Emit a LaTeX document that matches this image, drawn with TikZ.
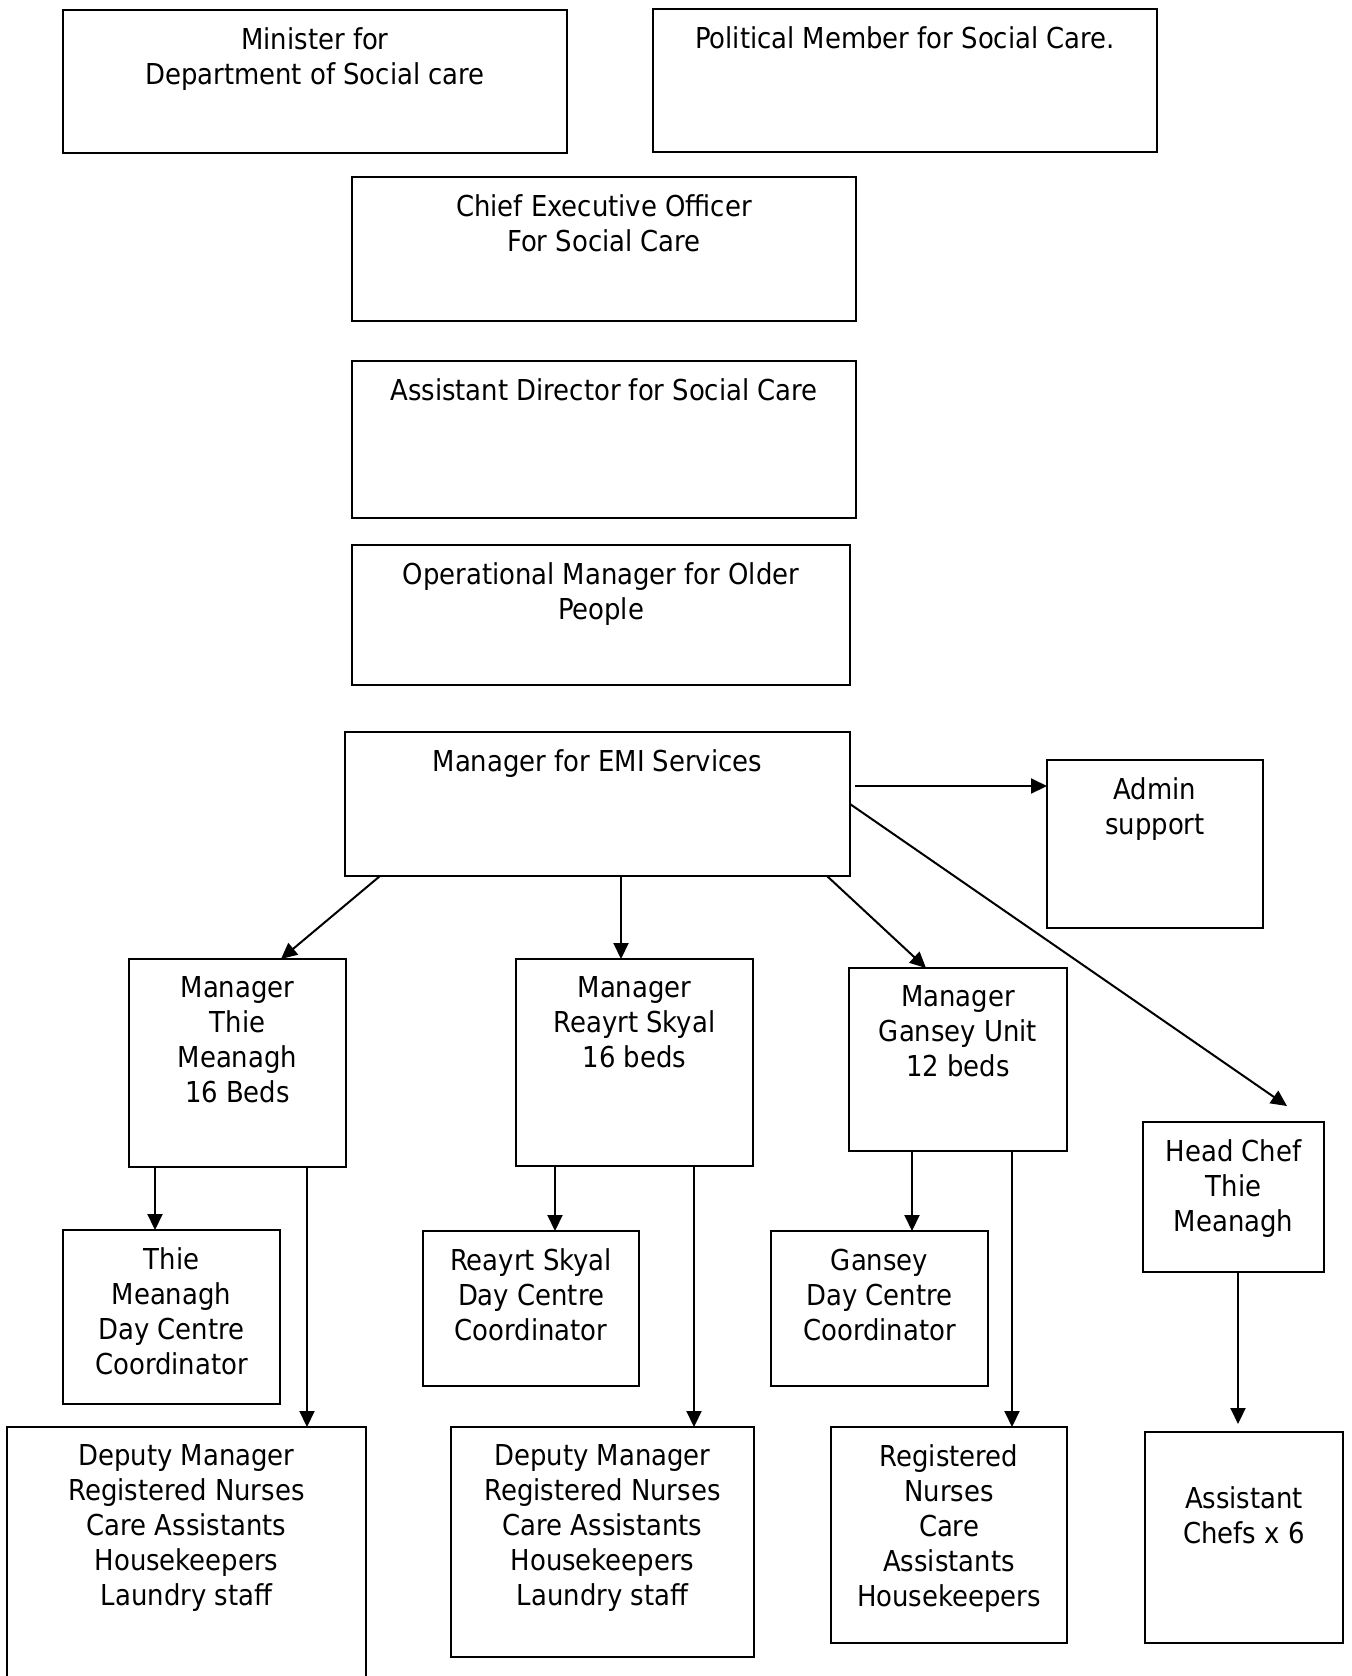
\documentclass[tikz,border=0pt]{standalone}
\usepackage{fontspec}
\setmainfont{DejaVu Sans Condensed}
\usetikzlibrary{arrows.meta,calc}
\newcommand\orgbox[7][8.7pt]{%
  \node[box, minimum width={(#5-#3)*0.5pt}, minimum height={(#6-#4)*0.5pt}] (#2) at ({(#3+#5)/2},{(#4+#6)/2}) {};
  \node[txt, anchor=north] (#2-t) at ([yshift=-#1]#2.north) {#7};}
\begin{document}
\begin{tikzpicture}[x=0.5pt,y=-0.5pt,
  box/.style={draw, line width=1pt, rectangle, inner sep=0pt, outer sep=0pt},
  txt/.style={align=center, inner sep=0pt, font=\fontsize{14.4}{17.5}\selectfont},
  arr/.style={line width=1pt, -{Triangle[length=8pt,width=7.5pt]}}]
\useasboundingbox (0,0) rectangle (1352,1676);

\orgbox{min}{63}{10}{567}{153}{Minister for\\Department of Social care}
\orgbox{pol}{653}{9}{1157}{152}{Political Member for Social Care.}
\orgbox{ceo}{352}{177}{856}{321}{Chief Executive Officer\\For Social Care}
\orgbox{ad}{352}{361}{856}{518}{Assistant Director for Social Care}
\orgbox{om}{352}{545}{850}{685}{Operational Manager for Older\\People}
\orgbox{emi}{345}{732}{850}{876}{Manager for EMI Services}
\orgbox{adm}{1047}{760}{1263}{928}{Admin\\support}
\orgbox{mt}{129}{959}{346}{1167}{Manager\\Thie\\Meanagh\\16 Beds}
\orgbox{mr}{516}{959}{753}{1166}{Manager\\Reayrt Skyal\\16 beds}
\orgbox{mg}{849}{968}{1067}{1151}{Manager\\Gansey Unit\\12 beds}
\orgbox{hc}{1143}{1122}{1324}{1272}{Head Chef\\Thie\\Meanagh}
\orgbox{tdc}{63}{1230}{280}{1404}{Thie\\Meanagh\\Day Centre\\Coordinator}
\orgbox{rdc}{423}{1231}{639}{1386}{Reayrt Skyal\\Day Centre\\Coordinator}
\orgbox{gdc}{771}{1231}{988}{1386}{Gansey\\Day Centre\\Coordinator}
\orgbox{dep1}{7}{1427}{366}{1690}{Deputy Manager\\Registered Nurses\\Care Assistants\\Housekeepers\\Laundry staff}
\orgbox{dep2}{451}{1427}{754}{1657}{Deputy Manager\\Registered Nurses\\Care Assistants\\Housekeepers\\Laundry staff}
\orgbox{reg}{831}{1427}{1067}{1643}{Registered\\Nurses\\Care\\Assistants\\Housekeepers}
\orgbox[27pt]{ach}{1145}{1432}{1343}{1643}{Assistant\\Chefs x 6}

\draw[arr] ($(emi.north east)+(5,54)$) -- ($(adm.north west)+(0,26)$);
\draw[arr] ($(emi.north east)+(0,72)$) -- ($(hc.north west)+(144,-16)$);
\draw[arr] ($(emi.south west)+(35,0)$) -- ($(mt.north west)+(152,0)$);
\draw[arr] ($(emi.south west)+(276,0)$) -- ($(mr.north west)+(105,0)$);
\draw[arr] ($(emi.south east)+(-23,0)$) -- ($(mg.north west)+(77,0)$);
\draw[arr] ($(mt.south west)+(26,0)$) -- ($(tdc.north west)+(92,0)$);
\draw[arr] ($(mt.south west)+(178,0)$) -- ($(dep1.north west)+(300,0)$);
\draw[arr] ($(mr.south west)+(39,0)$) -- ($(rdc.north west)+(132,0)$);
\draw[arr] ($(mr.south west)+(178,0)$) -- ($(dep2.north west)+(243,0)$);
\draw[arr] ($(mg.south west)+(63,0)$) -- ($(gdc.north west)+(141,0)$);
\draw[arr] ($(mg.south west)+(163,0)$) -- ($(reg.north west)+(181,0)$);
\draw[arr] ($(hc.south west)+(95,0)$) -- ($(ach.north west)+(93,-8)$);
\end{tikzpicture}
\end{document}
